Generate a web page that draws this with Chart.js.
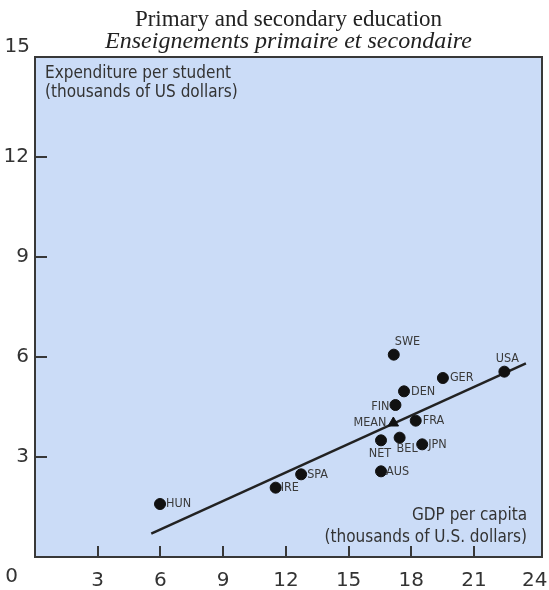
<!DOCTYPE html>
<html lang="en">
<head>
<meta charset="UTF-8">
<title>Primary and secondary education</title>
<style>
  html, body { margin: 0; padding: 0; background: #fff; }
  #chart { display: block; }
</style>
</head>
<body>
<canvas id="chart" width="549" height="590"></canvas>

<script src="https://cdn.jsdelivr.net/npm/chart.js"></script>
<script>
// data (thousands of US dollars)
const countries = ['HUN', 'IRE', 'SPA', 'AUS', 'NET', 'BEL', 'JPN', 'FRA', 'FIN', 'DEN', 'SWE', 'GER', 'USA'];
const gdpPerCapita = [5.98, 11.51, 12.73, 16.55, 16.55, 17.44, 18.52, 18.21, 17.24, 17.65, 17.16, 19.51, 22.45];
const spendPerStudent = [1.59, 2.08, 2.48, 2.57, 3.50, 3.58, 3.38, 4.09, 4.56, 4.97, 6.07, 5.37, 5.56];
const meanGdp = [17.14];
const meanSpend = [4.02];
const fitGdp = [5.56, 23.48];
const fitSpend = [0.70, 5.81];
const xTicks = [0, 3, 6, 9, 12, 15, 18, 21, 24];
const yTicks = [0, 3, 6, 9, 12, 15];

// where each point label sits: [align, dx, dy]
const labelPos = {
  HUN: ['left', 6, 0], IRE: ['left', 5, 0], SPA: ['left', 6, 0], AUS: ['left', 5, 0],
  NET: ['center', -1, 13], BEL: ['left', -3, 11], JPN: ['left', 6, 0], FRA: ['left', 7, 0],
  FIN: ['right', -6, 2], DEN: ['left', 7, 0], SWE: ['left', 1, -13], GER: ['left', 7, 0],
  USA: ['center', 3, -13], MEAN: ['right', -7, 0]
};

const axisFont = '20px "DejaVu Sans"';
const labelFont = '12.5px "DejaVu Sans Condensed", "Liberation Sans Narrow", sans-serif';
const textColor = '#333';

const framePlugin = {
  id: 'frame',
  beforeDatasetsDraw(chart) {
    const a = chart.chartArea, c = chart.ctx;
    c.save();
    c.fillStyle = '#cbdcf7';
    c.fillRect(a.left, a.top, a.right - a.left, a.bottom - a.top);
    c.restore();
  },
  afterDraw(chart) {
    const a = chart.chartArea, c = chart.ctx;
    const xs = chart.scales.x, ys = chart.scales.y;
    c.save();
    c.strokeStyle = '#383838';
    c.lineWidth = 2;
    c.strokeRect(a.left, a.top, a.right - a.left, a.bottom - a.top);
    // inward tick marks
    c.beginPath();
    yTicks.filter(v => v > 0 && v < 15).forEach(v => {
      const p = Math.round(ys.getPixelForValue(v));
      c.moveTo(a.left, p); c.lineTo(a.left + 12, p);
    });
    xTicks.filter(v => v > 0 && v < 24).forEach(v => {
      const p = Math.round(xs.getPixelForValue(v));
      c.moveTo(p, a.bottom); c.lineTo(p, a.bottom - 11);
    });
    c.stroke();

    // title, centred over the plot box
    const mid = (a.left + a.right) / 2;
    c.fillStyle = '#222';
    c.textAlign = 'center';
    c.textBaseline = 'middle';
    c.font = '23px "Liberation Serif", serif';
    c.fillText('Primary and secondary education', mid, 20);
    c.font = 'italic 24px "Liberation Serif", serif';
    c.fillText('Enseignements primaire et secondaire', mid, 42);

    // edge tick labels
    c.font = axisFont;
    c.fillStyle = textColor;
    c.textAlign = 'right';
    c.fillText('15', a.left - 5, ys.getPixelForValue(15) - 10);
    c.fillText('0', a.left - 17, a.bottom + 20);
    c.textAlign = 'center';
    c.fillText('24', xs.getPixelForValue(24) - 2, a.bottom + 24);

    // axis titles inside the plot
    c.font = '17px "DejaVu Sans Condensed", "DejaVu Sans", sans-serif';
    c.textAlign = 'left';
    c.fillText('Expenditure per student', a.left + 10, a.top + 17);
    c.fillText('(thousands of US dollars)', a.left + 10, a.top + 36);
    c.textAlign = 'right';
    c.fillText('GDP per capita', a.right - 15, a.bottom - 41);
    c.fillText('(thousands of U.S. dollars)', a.right - 15, a.bottom - 19);

    // point labels
    c.font = labelFont;
    c.fillStyle = '#3a3a3a';
    const put = (name, gx, gy) => {
      const [al, dx, dy] = labelPos[name];
      c.textAlign = al;
      c.fillText(name, xs.getPixelForValue(gx) + dx, ys.getPixelForValue(gy) + dy);
    };
    countries.forEach((n, i) => put(n, gdpPerCapita[i], spendPerStudent[i]));
    put('MEAN', meanGdp[0], meanSpend[0]);
    c.restore();
  }
};

const chart = new Chart(document.getElementById('chart'), {
  type: 'scatter',
  data: {
    datasets: [
      {
        label: 'Countries',
        data: countries.map((n, i) => ({ x: gdpPerCapita[i], y: spendPerStudent[i] })),
        backgroundColor: '#111',
        borderColor: '#111',
        pointRadius: 5.5,
        pointHoverRadius: 5.5
      },
      {
        label: 'Mean',
        data: meanGdp.map((g, i) => ({ x: g, y: meanSpend[i] })),
        backgroundColor: '#111',
        borderColor: '#111',
        pointStyle: 'triangle',
        pointRadius: 6
      },
      {
        label: 'Fit',
        type: 'line',
        data: fitGdp.map((g, i) => ({ x: g, y: fitSpend[i] })),
        borderColor: '#222',
        borderWidth: 2.5,
        pointRadius: 0,
        fill: false
      }
    ]
  },
  options: {
    responsive: false,
    animation: false,
    devicePixelRatio: 1,
    layout: { padding: { left: 4, right: 1, top: 57, bottom: 0 } },
    plugins: {
      legend: { display: false },
      tooltip: { enabled: false },
      title: { display: false }
    },
    scales: {
      x: {
        type: 'linear',
        min: 0,
        max: 24.25,
        afterBuildTicks: s => { s.ticks = xTicks.map(v => ({ value: v })); },
        afterFit: s => { s.height = 33; s.paddingLeft = 0; s.paddingRight = 0; },
        grid: { display: false, drawTicks: false },
        border: { display: false },
        ticks: {
          padding: 14,
          color: textColor,
          font: { family: '"DejaVu Sans"', size: 20, lineHeight: 1 },
          maxRotation: 0,
          autoSkip: false,
          callback: v => (v === 0 || v === 24) ? '' : String(v)
        }
      },
      y: {
        type: 'linear',
        min: 0,
        max: 15,
        afterBuildTicks: s => { s.ticks = yTicks.map(v => ({ value: v })); },
        afterFit: s => { s.width = 31; s.paddingTop = 0; s.paddingBottom = 0; },
        grid: { display: false, drawTicks: false },
        border: { display: false },
        ticks: {
          padding: 6,
          color: textColor,
          font: { family: '"DejaVu Sans"', size: 20, lineHeight: 1 },
          autoSkip: false,
          callback: v => (v === 0 || v === 15) ? '' : String(v)
        }
      }
    }
  },
  plugins: [framePlugin]
});
</script>
</body>
</html>
